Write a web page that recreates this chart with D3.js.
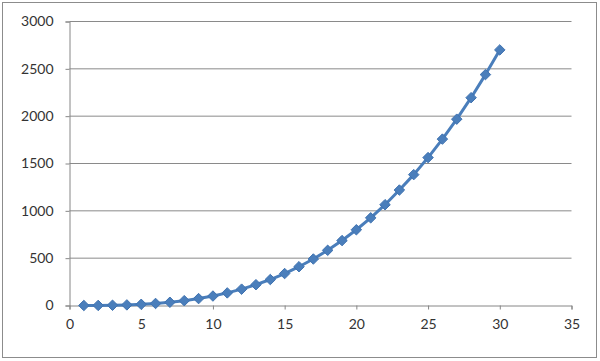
<!DOCTYPE html>
<html><head><meta charset="utf-8">
<script src="https://cdn.jsdelivr.net/npm/d3@7"></script>
<style>body{margin:0;background:#fff;}svg{display:block;}</style>
</head><body>
<svg id="c" width="600" height="361"></svg>
<script>
const xValues = [1,2,3,4,5,6,7,8,9,10,11,12,13,14,15,16,17,18,19,20,21,22,23,24,25,26,27,28,29,30];
const yValues = [0.1,0.8,2.7,6.4,12.5,21.6,34.3,51.2,72.9,100,133.1,172.8,219.7,274.4,337.5,409.6,491.3,583.2,685.9,800,926.1,1064.8,1219.7,1382.4,1562.5,1757.6,1968.3,2195.2,2438.9,2700];
const xTicks = [0,5,10,15,20,25,30,35];
const yTicks = [0,500,1000,1500,2000,2500,3000];

const svg = d3.select("#c");
svg.append("rect").attr("x",2.5).attr("y",2.5).attr("width",594).attr("height",355)
  .attr("fill","#fff").attr("stroke","#8c8c8c").attr("stroke-width",1);

const x = d3.scaleLinear().domain([0,35]).range([69.5,571.5]);
const y = d3.scaleLinear().domain([0,3000]).range([305.5,21.5]);

// gridlines
svg.append("g").selectAll("line").data(yTicks.filter(d=>d>0)).join("line")
  .attr("x1",x(0)).attr("x2",x(35)).attr("y1",d=>y(d)).attr("y2",d=>y(d))
  .attr("stroke","#8a8a8a").attr("stroke-width",1);

const font = "Lato, 'Open Sans', sans-serif";
const xAxis = svg.append("g").attr("transform",`translate(0,${y(0)})`)
  .call(d3.axisBottom(x).tickValues(xTicks).tickSize(4).tickPadding(10).tickFormat(d3.format("d")));
const yAxis = svg.append("g").attr("transform",`translate(${x(0)},0)`)
  .call(d3.axisLeft(y).tickValues(yTicks).tickSize(4).tickPadding(12).tickFormat(d3.format("d")));
[xAxis,yAxis].forEach(g=>{
  g.select(".domain").attr("stroke","#868686");
  g.selectAll(".tick line").attr("stroke","#868686");
  g.selectAll("text").attr("fill","#333").style("font-family",font).style("font-size","14px");
});

const line = d3.line().x((d,i)=>x(xValues[i])).y(d=>y(d));
svg.append("path").datum(yValues).attr("d",line)
  .attr("fill","none").attr("stroke","#4a7ebb").attr("stroke-width",3).attr("stroke-linejoin","round");

svg.append("g").selectAll("path").data(yValues).join("path")
  .attr("d",d3.symbol().type(d3.symbolDiamond2).size(70))
  .attr("transform",(d,i)=>`translate(${x(xValues[i])},${y(d)})`)
  .attr("fill","#4a7ebb").attr("stroke","#3f72b0").attr("stroke-width",1);
</script>
</body></html>
